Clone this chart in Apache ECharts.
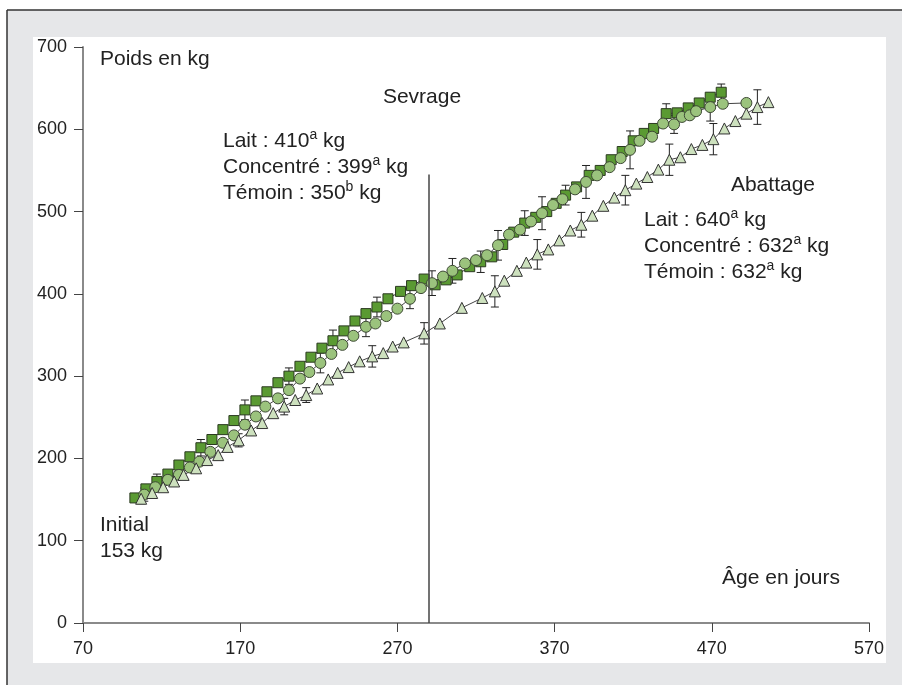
<!DOCTYPE html>
<html>
<head>
<meta charset="utf-8">
<script src="https://cdn.jsdelivr.net/npm/echarts@6/dist/echarts.min.js"></script>
<style>html,body{margin:0;padding:0;background:#fff;}#c{width:902px;height:685px;}</style>
</head>
<body>
<div id="c"></div>
<script>
// ---- Data ----
const xTicks = [70, 170, 270, 370, 470, 570];
const yTicks = [0, 100, 200, 300, 400, 500, 600, 700];

const laitDays = [103,110,117,124,131,138,145,152,159,166,173,180,187,194,201,208,215,222,229,236,243,250,257,264,272,279,287,294,301,308,316,323,330,337,344,351,358,365,371,377,384,392,399,406,413,420,427,433,441,448,455,462,469,476];
const laitKg   = [152,163,172,181,192,202,213,223,235,246,259,270,281,292,300,312,323,334,343,355,367,376,384,394,403,410,418,411,417,423,433,439,445,460,475,486,493,500,510,520,530,544,550,563,573,586,595,601,619,620,626,632,639,645];

const concDays = [109,116,124,131,138,144,151,159,166,173,180,186,194,201,208,214,221,228,235,242,250,256,263,270,278,285,292,299,305,313,320,327,334,341,348,355,362,369,375,383,390,397,405,412,418,424,432,439,446,451,456,460,469,477,492];
const concKg   = [156,165,174,180,189,196,208,219,228,241,251,263,273,283,297,305,316,327,338,349,360,364,373,382,394,407,413,421,428,437,441,447,459,472,478,488,498,508,515,527,536,544,554,565,575,586,591,607,606,615,617,622,627,631,632];

const temDays = [107,114,121,128,134,142,149,156,162,169,177,184,191,198,205,212,219,226,232,239,246,254,261,267,274,287,297,311,324,332,338,346,352,359,366,373,380,387,394,401,408,415,422,429,436,443,450,457,464,471,478,485,492,499,506];
const temKg   = [151,158,165,172,180,188,198,204,214,222,234,243,255,263,271,277,285,296,304,311,318,324,328,336,341,352,364,383,395,403,416,428,438,448,454,465,477,484,495,507,517,526,534,542,551,563,566,576,581,588,601,610,619,627,633];

// error bars: day and half-width (kg)
const laitErrDays = [117,145,173,201,229,257,323,351,377,441,476];
const laitErr     = [9,10,12,10,13,12,13,15,12,12,10];
const concErrDays = [109,221,250,278,292,305,334,362,390,418,446,469];
const concErr     = [8,12,12,12,15,15,18,20,20,23,11,17];
const temErrDays  = [107,169,198,212,254,287,332,359,387,415,443,471,499];
const temErr      = [6,8,10,9,13,13,19,18,15,18,19,19,21];

const weaningDay = 290;
const weaningTop = 545;

// ---- Build ----
function pairs(d, k) { return d.map((x, i) => [x, k[i]]); }
function errData(days, kg, eDays, e) {
  return eDays.map((d, i) => {
    const w = kg[days.indexOf(d)];
    return [d, w - e[i], w + e[i]];
  });
}
const FONT = '"Liberation Sans", Arial, Helvetica, sans-serif';
const TXT = '#222';

function errSeries(data) {
  return {
    type: 'custom',
    z: 1,
    data: data,
    renderItem: function (params, api) {
      const lo = api.coord([api.value(0), api.value(1)]);
      const hi = api.coord([api.value(0), api.value(2)]);
      const w = 4;
      const st = { stroke: '#222', lineWidth: 1 };
      return {
        type: 'group',
        children: [
          { type: 'line', shape: { x1: lo[0], y1: lo[1], x2: hi[0], y2: hi[1] }, style: st },
          { type: 'line', shape: { x1: lo[0] - w, y1: lo[1], x2: lo[0] + w, y2: lo[1] }, style: st },
          { type: 'line', shape: { x1: hi[0] - w, y1: hi[1], x2: hi[0] + w, y2: hi[1] }, style: st }
        ]
      };
    }
  };
}
function lineSeries(name, data, symbol, size, fill, border) {
  return {
    name: name, type: 'line', z: 3, data: data,
    symbol: symbol, symbolSize: size, showAllSymbol: true,
    lineStyle: { color: '#444', width: 1 },
    itemStyle: { color: fill, borderColor: border, borderWidth: 1, opacity: 1 },
    emphasis: { disabled: true }, animation: false
  };
}

const supRich = { s: { fontSize: 14, lineHeight: 13, verticalAlign: 'top', fontFamily: FONT, fill: TXT } };
function label(x, y, text, align) {
  return {
    type: 'text', x: x, y: y, z: 50, silent: true,
    style: {
      text: text, fill: TXT, fontSize: 21, fontFamily: FONT, lineHeight: 26,
      align: align || 'left', verticalAlign: 'middle', rich: supRich
    }
  };
}

const chart = echarts.init(document.getElementById('c'), null, { renderer: 'canvas' });
chart.setOption({
  animation: false,
  backgroundColor: '#ffffff',
  grid: { left: 83, right: 33, top: 47, bottom: 62, containLabel: false },
  xAxis: {
    type: 'value', min: xTicks[0], max: xTicks[xTicks.length - 1], interval: 100,
    axisLine: { onZero: false, lineStyle: { color: '#8a8a8a', width: 2 } },
    axisTick: { show: true, length: 9, lineStyle: { color: '#444', width: 1 } },
    axisLabel: { color: TXT, fontSize: 18, fontFamily: FONT, margin: 17 },
    splitLine: { show: false }
  },
  yAxis: {
    type: 'value', min: yTicks[0], max: yTicks[yTicks.length - 1], interval: 100,
    axisLine: { show: true, onZero: false, lineStyle: { color: '#8a8a8a', width: 2 } },
    axisTick: { show: true, length: 9, lineStyle: { color: '#444', width: 1 } },
    axisLabel: { color: TXT, fontSize: 18, fontFamily: FONT, margin: 16 },
    splitLine: { show: false }
  },
  graphic: [
    { type: 'rect', z: -100, silent: true, shape: { x: 7, y: 10, width: 895, height: 675 }, style: { fill: '#e6e7e9' } },
    { type: 'line', z: -99, silent: true, shape: { x1: 7, y1: 10, x2: 902, y2: 10 }, style: { stroke: '#333', lineWidth: 1.5 } },
    { type: 'line', z: -99, silent: true, shape: { x1: 7, y1: 10, x2: 7, y2: 685 }, style: { stroke: '#333', lineWidth: 1.5 } },
    { type: 'rect', z: -98, silent: true, shape: { x: 33, y: 37, width: 853, height: 626 }, style: { fill: '#ffffff' } },
    label(100, 59, 'Poids en kg'),
    label(422, 97, 'Sevrage', 'center'),
    label(223, 141, 'Lait : 410{s|a} kg'),
    label(223, 167, 'Concentré : 399{s|a} kg'),
    label(223, 193, 'Témoin : 350{s|b} kg'),
    label(815, 185, 'Abattage', 'right'),
    label(644, 220, 'Lait : 640{s|a} kg'),
    label(644, 246, 'Concentré : 632{s|a} kg'),
    label(644, 272, 'Témoin : 632{s|a} kg'),
    label(100, 525, 'Initial'),
    label(100, 551, '153 kg'),
    label(840, 578, 'Âge en jours', 'right')
  ],
  series: [
    errSeries(errData(laitDays, laitKg, laitErrDays, laitErr)),
    errSeries(errData(concDays, concKg, concErrDays, concErr)),
    errSeries(errData(temDays, temKg, temErrDays, temErr)),
    Object.assign(lineSeries('Lait', pairs(laitDays, laitKg), 'rect', 10, '#5a9a32', '#2b3a20'), {
      markLine: {
        silent: true, symbol: ['none', 'none'], label: { show: false },
        lineStyle: { color: '#444', width: 1.5, type: 'solid' },
        data: [[{ coord: [weaningDay, 0] }, { coord: [weaningDay, weaningTop] }]]
      }
    }),
    lineSeries('Concentré', pairs(concDays, concKg), 'circle', 11, '#9bc37d', '#3e4a35'),
    lineSeries('Témoin', pairs(temDays, temKg), 'triangle', 11, '#cde1be', '#333')
  ]
});
</script>
</body>
</html>
